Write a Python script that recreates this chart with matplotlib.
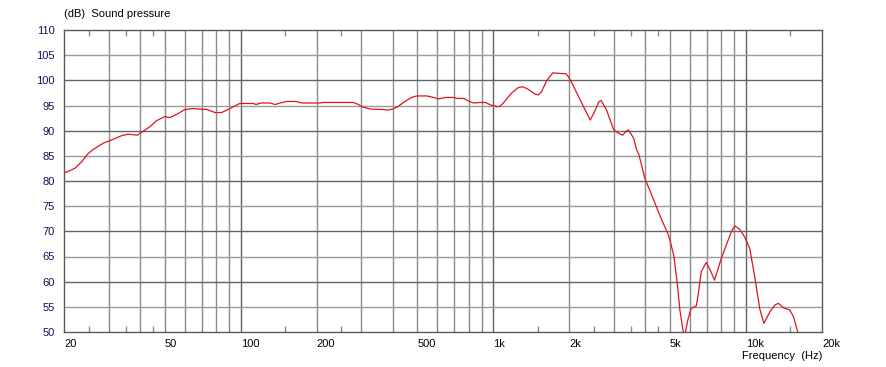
import matplotlib
matplotlib.use('Agg')
import matplotlib.pyplot as plt
from matplotlib.ticker import FixedLocator, NullFormatter

# frequency response
freq = [20, 20.5, 22, 23.4, 24.9, 26.1, 28.5, 31.3, 33.7, 35.8, 38.9, 41.1, 43.7, 46.4,
        50, 52.4, 56.5, 60, 64.8, 73.3, 79.1, 84, 90.6, 99, 112, 115, 120, 130, 137, 143,
        152, 166, 174, 206, 213, 279, 292, 301, 324, 366, 383, 400, 419, 446, 474, 497,
        545, 579, 607, 644, 697, 718, 765, 796, 835, 888, 930, 975, 1030, 1058, 1090,
        1182, 1258, 1310, 1376, 1460, 1505, 1550, 1624, 1720, 1808, 1940, 1983, 2045,
        2206, 2418, 2533, 2612, 2670, 2805, 2988, 3100, 3250, 3374, 3420, 3480, 3592,
        3690, 3770, 3978, 4156, 4410, 4608, 4930, 5038, 5188, 5344, 5474, 5641, 5720,
        5886, 6066, 6204, 6360, 6480, 6650, 6964, 7220, 7508, 7984, 8360, 8752, 9020,
        9440, 9880, 10350, 10830, 11330, 11770, 12440, 13040, 13450, 14080, 14900,
        15440, 16020, 16400]
spl = [81.7, 81.8, 82.5, 83.8, 85.5, 86.3, 87.5, 88.3, 89.0, 89.3, 89.1, 89.9, 90.8, 92.0,
       92.8, 92.6, 93.4, 94.2, 94.4, 94.2, 93.6, 93.6, 94.4, 95.4, 95.4, 95.2, 95.5, 95.5,
       95.2, 95.5, 95.8, 95.8, 95.5, 95.5, 95.6, 95.6, 95.2, 94.8, 94.3, 94.2, 94.1, 94.3,
       94.8, 95.8, 96.6, 96.9, 96.9, 96.6, 96.3, 96.6, 96.6, 96.4, 96.4, 95.9, 95.5, 95.6,
       95.6, 95.1, 94.8, 94.8, 95.4, 97.5, 98.6, 98.7, 98.2, 97.3, 97.1, 97.7, 99.9, 101.5,
       101.4, 101.3, 100.7, 99.5, 96.1, 92.1, 94.1, 95.7, 96.0, 94.1, 90.3, 89.6, 89.1,
       90.0, 90.1, 89.6, 88.5, 86.2, 85.2, 80.5, 78.2, 75.0, 72.6, 69.3, 67.6, 65.0, 59.7,
       54.4, 50.1, 49.3, 52.4, 54.7, 54.9, 55.2, 57.7, 62.0, 63.8, 62.3, 60.3, 64.6, 67.3,
       69.9, 71.1, 70.4, 68.9, 66.6, 61.0, 54.7, 51.7, 54.0, 55.4, 55.7, 54.8, 54.4, 53.0,
       50.0, 48.0]

xticks = [20, 50, 100, 200, 500, 1000, 2000, 5000, 10000, 20000]
xlabels = ['20', '50', '100', '200', '500', '1k', '2k', '5k', '10k', '20k']
decades = [100, 1000, 10000]
vgrid = [30, 40, 50, 60, 70, 80, 90, 200, 300, 400, 500, 600, 700, 800, 900,
         2000, 3000, 4000, 5000, 6000, 7000, 8000, 9000]
minor = [25, 35, 45, 150, 250, 1500, 2500, 3500, 4500, 15000]
yticks = list(range(50, 111, 5))

plt.rcParams['font.family'] = ['Liberation Sans', 'DejaVu Sans']

fig = plt.figure(figsize=(8.86, 3.67), dpi=100)
ax = fig.add_axes([64.3 / 886, 35 / 367, 757.7 / 886, 302 / 367])

# grid: decades and 10 dB lines darker
for v in vgrid:
    ax.axvline(v, color='#8c8c8c', lw=1.0, zorder=1)
for v in decades:
    ax.axvline(v, color='#606060', lw=1.0, zorder=1)
for y in yticks[1:-1]:
    ax.axhline(y, color='#646464' if y % 10 == 0 else '#9a9a9a', lw=1.0, zorder=1)

ax.plot(freq, spl, color='#e0141e', lw=0.9, zorder=3)

ax.set_xscale('log')
ax.set_xlim(20, 20000)
ax.set_ylim(50, 110)
ax.xaxis.set_major_locator(FixedLocator(xticks))
ax.xaxis.set_minor_locator(FixedLocator(minor))
ax.xaxis.set_minor_formatter(NullFormatter())
ax.set_xticklabels(xlabels)
for lab in ax.get_xticklabels():
    lab.set_horizontalalignment('left')
ax.set_yticks(yticks)
ax.tick_params(axis='x', which='major', length=0, pad=5, labelsize=8, labelcolor='#000000')
ax.tick_params(axis='x', which='minor', length=4, direction='in', top=True,
               color='#8c8c8c', width=1.0)
ax.tick_params(axis='y', length=0, pad=7, labelsize=8, labelcolor='#220a55')

for s in ax.spines.values():
    s.set_color('#5a5a5a')
    s.set_linewidth(1.0)

fig.text(64 / 886, 1 - 14 / 367, '(dB)  Sound pressure', fontsize=8, va='center', ha='left')
fig.text(822 / 886, 1 - 356 / 367, 'Frequency  (Hz)', fontsize=8, va='center', ha='right')

fig.savefig('out.png', dpi=100)
